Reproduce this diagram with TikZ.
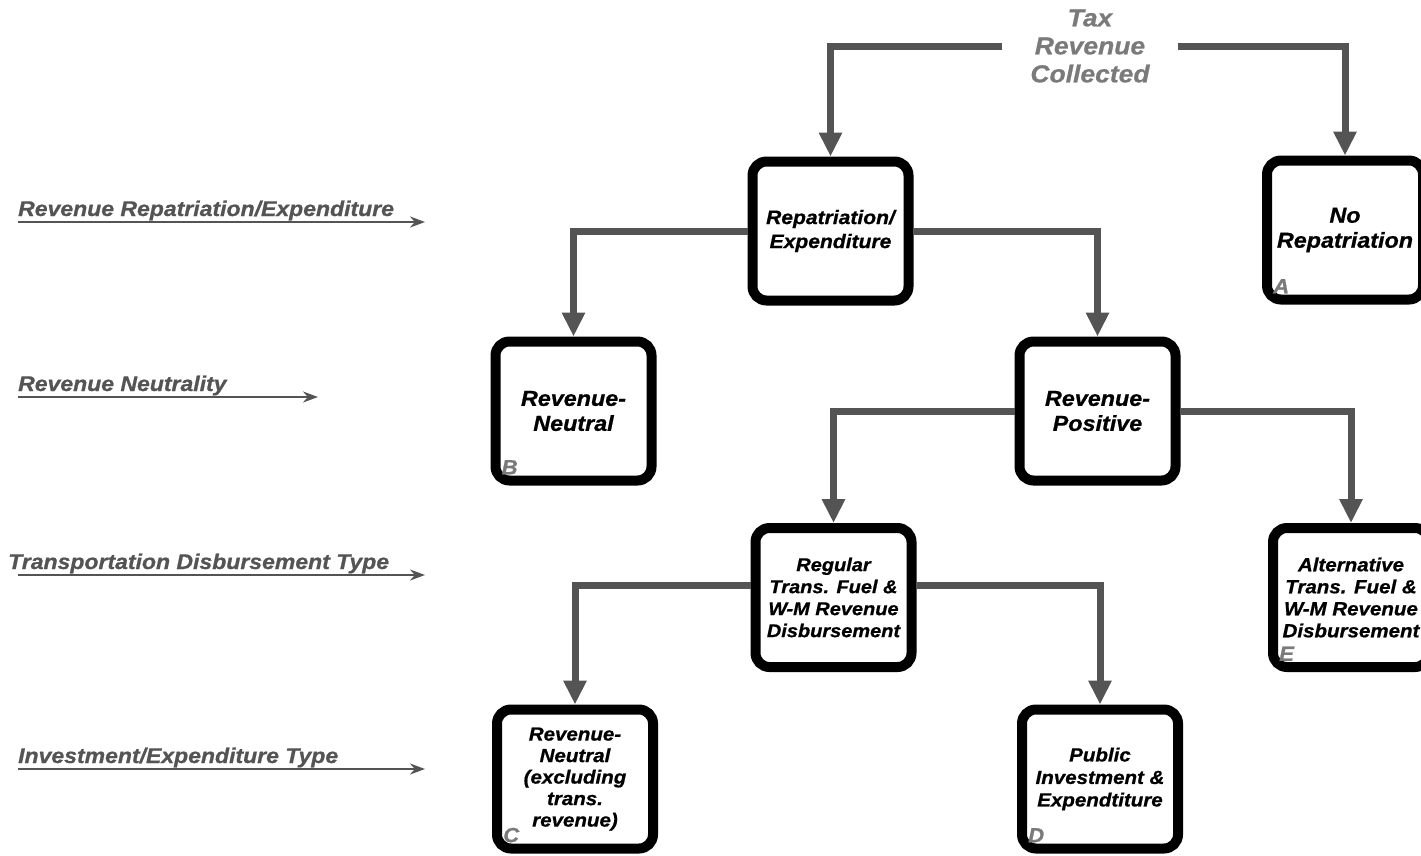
\documentclass[tikz,border=0pt]{standalone}
\usepackage{fontspec}
\setmainfont{Liberation Sans}[FakeStretch=1.08,FakeBold=0.8]
\usetikzlibrary{arrows.meta}

\definecolor{conngray}{HTML}{545454}
\definecolor{taggray}{HTML}{7A7A7A}

\begin{document}
\begin{tikzpicture}[x=1pt,y=-1pt,
    box/.style={draw=black,line width=10pt,rounded corners=14pt,fill=white,
      minimum width=156pt,minimum height=139pt,inner sep=2pt,align=center,
      font=\fontsize{19}{22.5}\selectfont\bfseries\itshape},
    big/.style={font=\fontsize{21.6}{25}\selectfont\bfseries\itshape},
    tag/.style={anchor=south west,inner sep=1pt,text=taggray,
      font=\fontsize{20.5}{22}\selectfont\bfseries\itshape},
    conn/.style={draw=conngray,line width=7pt,-{Triangle[length=24pt,width=22pt]}},
    lvl/.style={anchor=base west,inner sep=0pt,text=conngray,
      font=\fontsize{21.3}{22}\selectfont\bfseries\itshape},
    lvlarrow/.style={draw=conngray,line width=2.2pt,-{Stealth[length=15pt,width=11pt]}}]
                    \useasboundingbox (0,0) rectangle (1421,855);

                    \path
                    (1090,46) node[align=center,text=taggray,inner xsep=28pt,
                      font=\fontsize{24.5}{28}\selectfont\bfseries\itshape](tax) {Tax\\Revenue\\Collected}
                    (830.5,231) node[box,font=\fontsize{19.5}{24}\selectfont\bfseries\itshape](rep) {Repatriation/\\Expenditure}
                    (1345,230) node[box,big](norep) {No\\Repatriation}
                    (573.5,411) node[box,big](neut) {Revenue-\\Neutral}
                    (1097.5,411) node[box,big](pos) {Revenue-\\Positive}
                    (833.5,597.5) node[box,font=\fontsize{18.5}{22}\selectfont\bfseries\itshape](reg) {Regular\\Trans. Fuel \&\\W-M Revenue\\Disbursement}
                    (1351,597.5) node[box,font=\fontsize{19}{22}\selectfont\bfseries\itshape](alt) {Alternative\\Trans. Fuel \&\\W-M Revenue\\Disbursement}
                    (575,779) node[box,font=\fontsize{19}{21.5}\selectfont\bfseries\itshape](excl) {Revenue-\\Neutral\\(excluding\\trans.\\revenue)}
                    (1100,779) node[box](pub) {Public\\Investment \&\\Expendtiture};

                    % letters in the corners
                    \node[tag] (tagA) at ([shift={(10pt,10pt)}]norep.south west) {A};
                    \node[tag] (tagB) at ([shift={(10pt,10pt)}]neut.south west) {B};
                    \node[tag] (tagC) at ([shift={(10pt,10pt)}]excl.south west) {C};
                    \node[tag] (tagD) at ([shift={(10pt,10pt)}]pub.south west) {D};
                    \node[tag] (tagE) at ([shift={(10pt,10pt)}]alt.south west) {E};

                    \draw[conn] (tax.west) -| (rep.north);
                    \draw[conn] (tax.east) -| (norep.north);
                    \draw[conn] (rep.west) -| (neut.north);
                    \draw[conn] (rep.east) -| (pos.north);
                    \draw[conn] (pos.west) -| (reg.north);
                    \draw[conn] (pos.east) -| (alt.north);
                    \draw[conn] ([yshift=12pt]reg.west) -| (excl.north);
                    \draw[conn] ([yshift=12pt]reg.east) -| (pub.north);

                    % levels on the left
                    \path
                    (18,216) node[lvl](lvl1) {Revenue Repatriation/Expenditure}
                    (18,391) node[lvl](lvl2) {Revenue Neutrality}
                    (8,569) node[lvl](lvl3) {Transportation Disbursement Type}
                    (18,763) node[lvl](lvl4) {Investment/Expenditure Type};
                    \coordinate (s1) at (18,222);  \coordinate (e1) at (425,222);
                    \coordinate (s2) at (18,397);  \coordinate (e2) at (318,397);
                    \coordinate (s3) at (18,575);  \coordinate (e3) at (425,575);
                    \coordinate (s4) at (18,769);  \coordinate (e4) at (425,769);
                    \draw[lvlarrow] (s1) -- (e1);
                    \draw[lvlarrow] (s2) -- (e2);
                    \draw[lvlarrow] (s3) -- (e3);
                    \draw[lvlarrow] (s4) -- (e4);
                \end{tikzpicture}
\end{document}
